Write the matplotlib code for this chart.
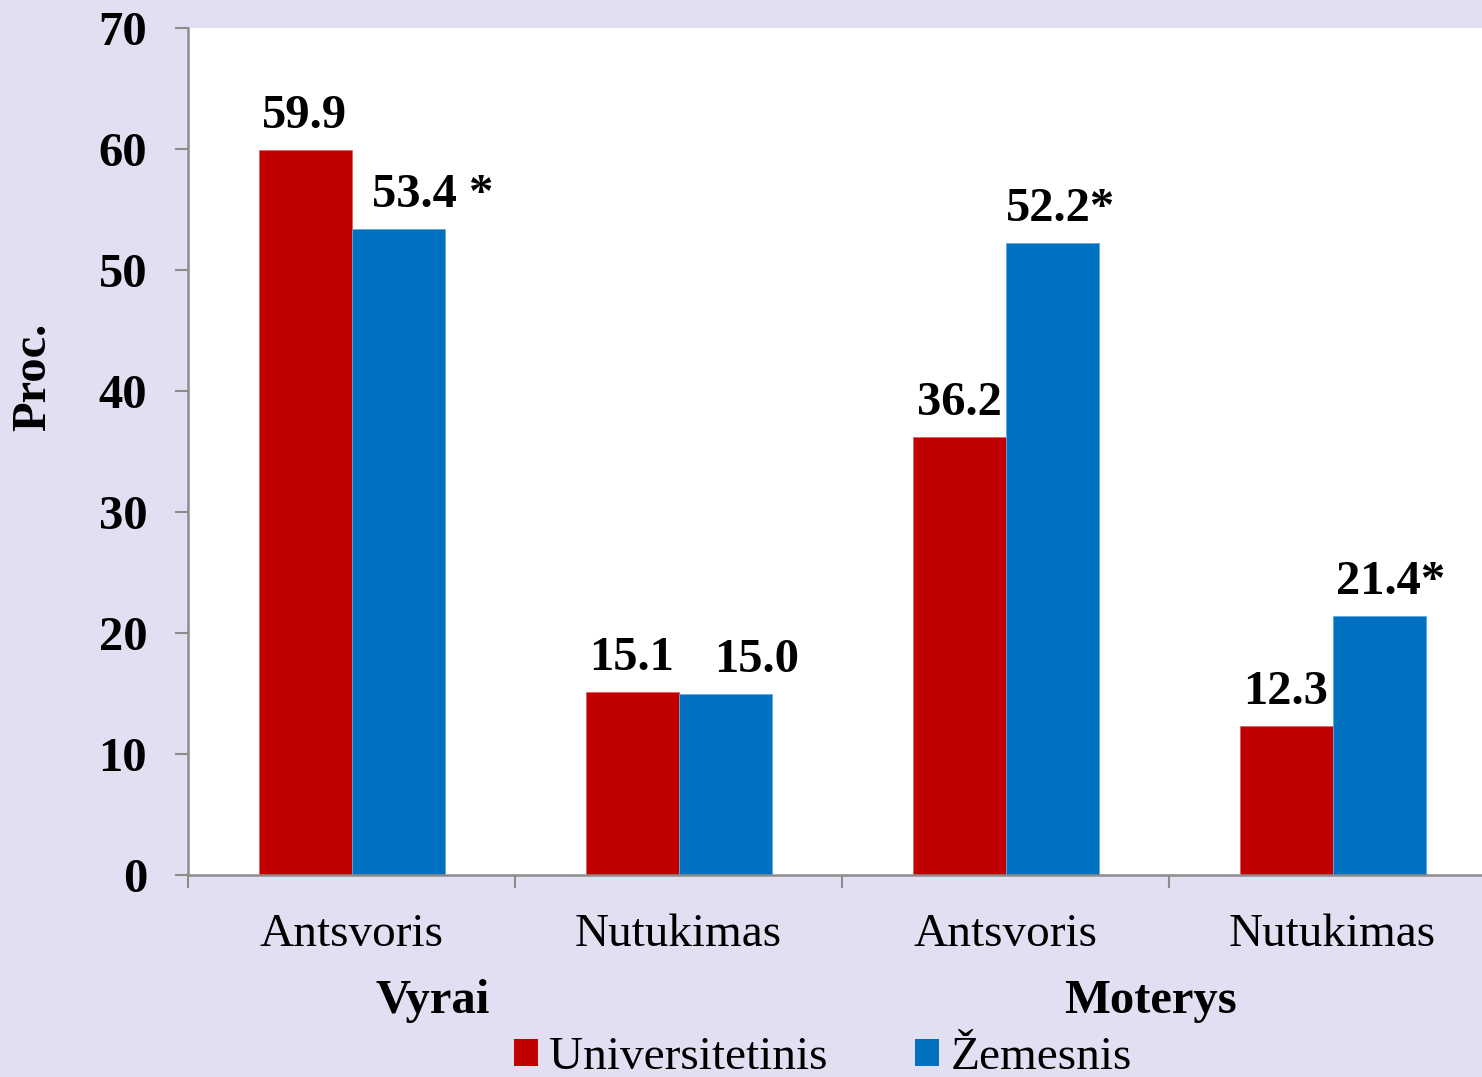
import numpy as np
import matplotlib.pyplot as plt
from matplotlib.patches import Patch

# ==========================================
# DATA
# ==========================================
categories = ['Antsvoris', 'Nutukimas', 'Antsvoris', 'Nutukimas']
groups = ['Vyrai', 'Moterys']
series_names = ['Universitetinis', 'Žemesnis']
universitetinis = [59.9, 15.1, 36.2, 12.3]
zemesnis = [53.4, 15.0, 52.2, 21.4]
univ_labels = ['59.9', '15.1', '36.2', '12.3']
zem_labels = ['53.4 *', '15.0', '52.2*', '21.4*']

# ==========================================
# STYLE
# ==========================================
BG = '#E2DFF2'
RED = '#C00000'
BLUE = '#0070C0'
GRAY = '#8C8C8C'
plt.rcParams['font.family'] = ['Liberation Serif', 'DejaVu Serif']

W, H = 1482, 1077
fig = plt.figure(figsize=(W / 100, H / 100), dpi=100, facecolor=BG)
ax = fig.add_axes([188 / W, 202 / H, 1308 / W, 847 / H])
ax.set_facecolor('white')

x = np.arange(len(categories))
width = 93 / 327
bars_u = ax.bar(x - width / 2, universitetinis, width, color=RED, edgecolor='#E06060', linewidth=0.6)
bars_z = ax.bar(x + width / 2, zemesnis, width, color=BLUE, edgecolor='#60A8E0', linewidth=0.6)

# value labels (horizontal offsets in pixels)
u_dx = [0, 0, 0, 0]
z_dx = [35, 32, 9, 12]
for bar, lab, dx in zip(bars_u, univ_labels, u_dx):
    ax.annotate(lab, (bar.get_x() + bar.get_width() / 2, bar.get_height()),
                xytext=(dx, 22), textcoords='offset pixels', ha='center', va='baseline',
                fontsize=35, fontweight='bold')
for bar, lab, dx in zip(bars_z, zem_labels, z_dx):
    ax.annotate(lab, (bar.get_x() + bar.get_width() / 2, bar.get_height()),
                xytext=(dx, 22), textcoords='offset pixels', ha='center', va='baseline',
                fontsize=35, fontweight='bold')

# axes
ax.set_xlim(-0.5, 3.5)
ax.set_ylim(0, 70)
ax.set_yticks(np.arange(0, 71, 10))
ax.tick_params(axis='y', length=9.4, width=1.5, color=GRAY, pad=20, labelsize=35)
for lab in ax.get_yticklabels():
    lab.set_fontweight('bold')

ax.set_xticks(x)
ax.set_xticklabels(categories, fontsize=34)
ax.tick_params(axis='x', length=0, pad=28)
ax.set_xticks(np.arange(-0.5, 3.6, 1), minor=True)
ax.tick_params(axis='x', which='minor', length=9, width=1.5, color=GRAY)

for s in ['top', 'right']:
    ax.spines[s].set_visible(False)
for s in ['left', 'bottom']:
    ax.spines[s].set_color(GRAY)
    ax.spines[s].set_linewidth(1.8)

# group labels
group_x = [0.249, 2.442]
for gx, g in zip(group_x, groups):
    ax.text(gx, -0.163, g, transform=ax.get_xaxis_transform(), ha='center', va='baseline',
            fontsize=35, fontweight='bold')

# y label
fig.text(33 / W, 1 - 377 / H, 'Proc.', rotation=90, ha='center', va='center',
         fontsize=35, fontweight='bold')

# legend
handles = [Patch(facecolor=RED), Patch(facecolor=BLUE)]
fig.legend(handles, series_names, loc='center', bbox_to_anchor=(823 / W, 1 - 1058 / H),
           ncol=2, frameon=False, fontsize=34, handlelength=0.5, handleheight=0.5,
           handletextpad=0.25, columnspacing=1.85, borderpad=0, borderaxespad=0)

plt.savefig('out.png', dpi=100, facecolor=BG)
plt.close(fig)
